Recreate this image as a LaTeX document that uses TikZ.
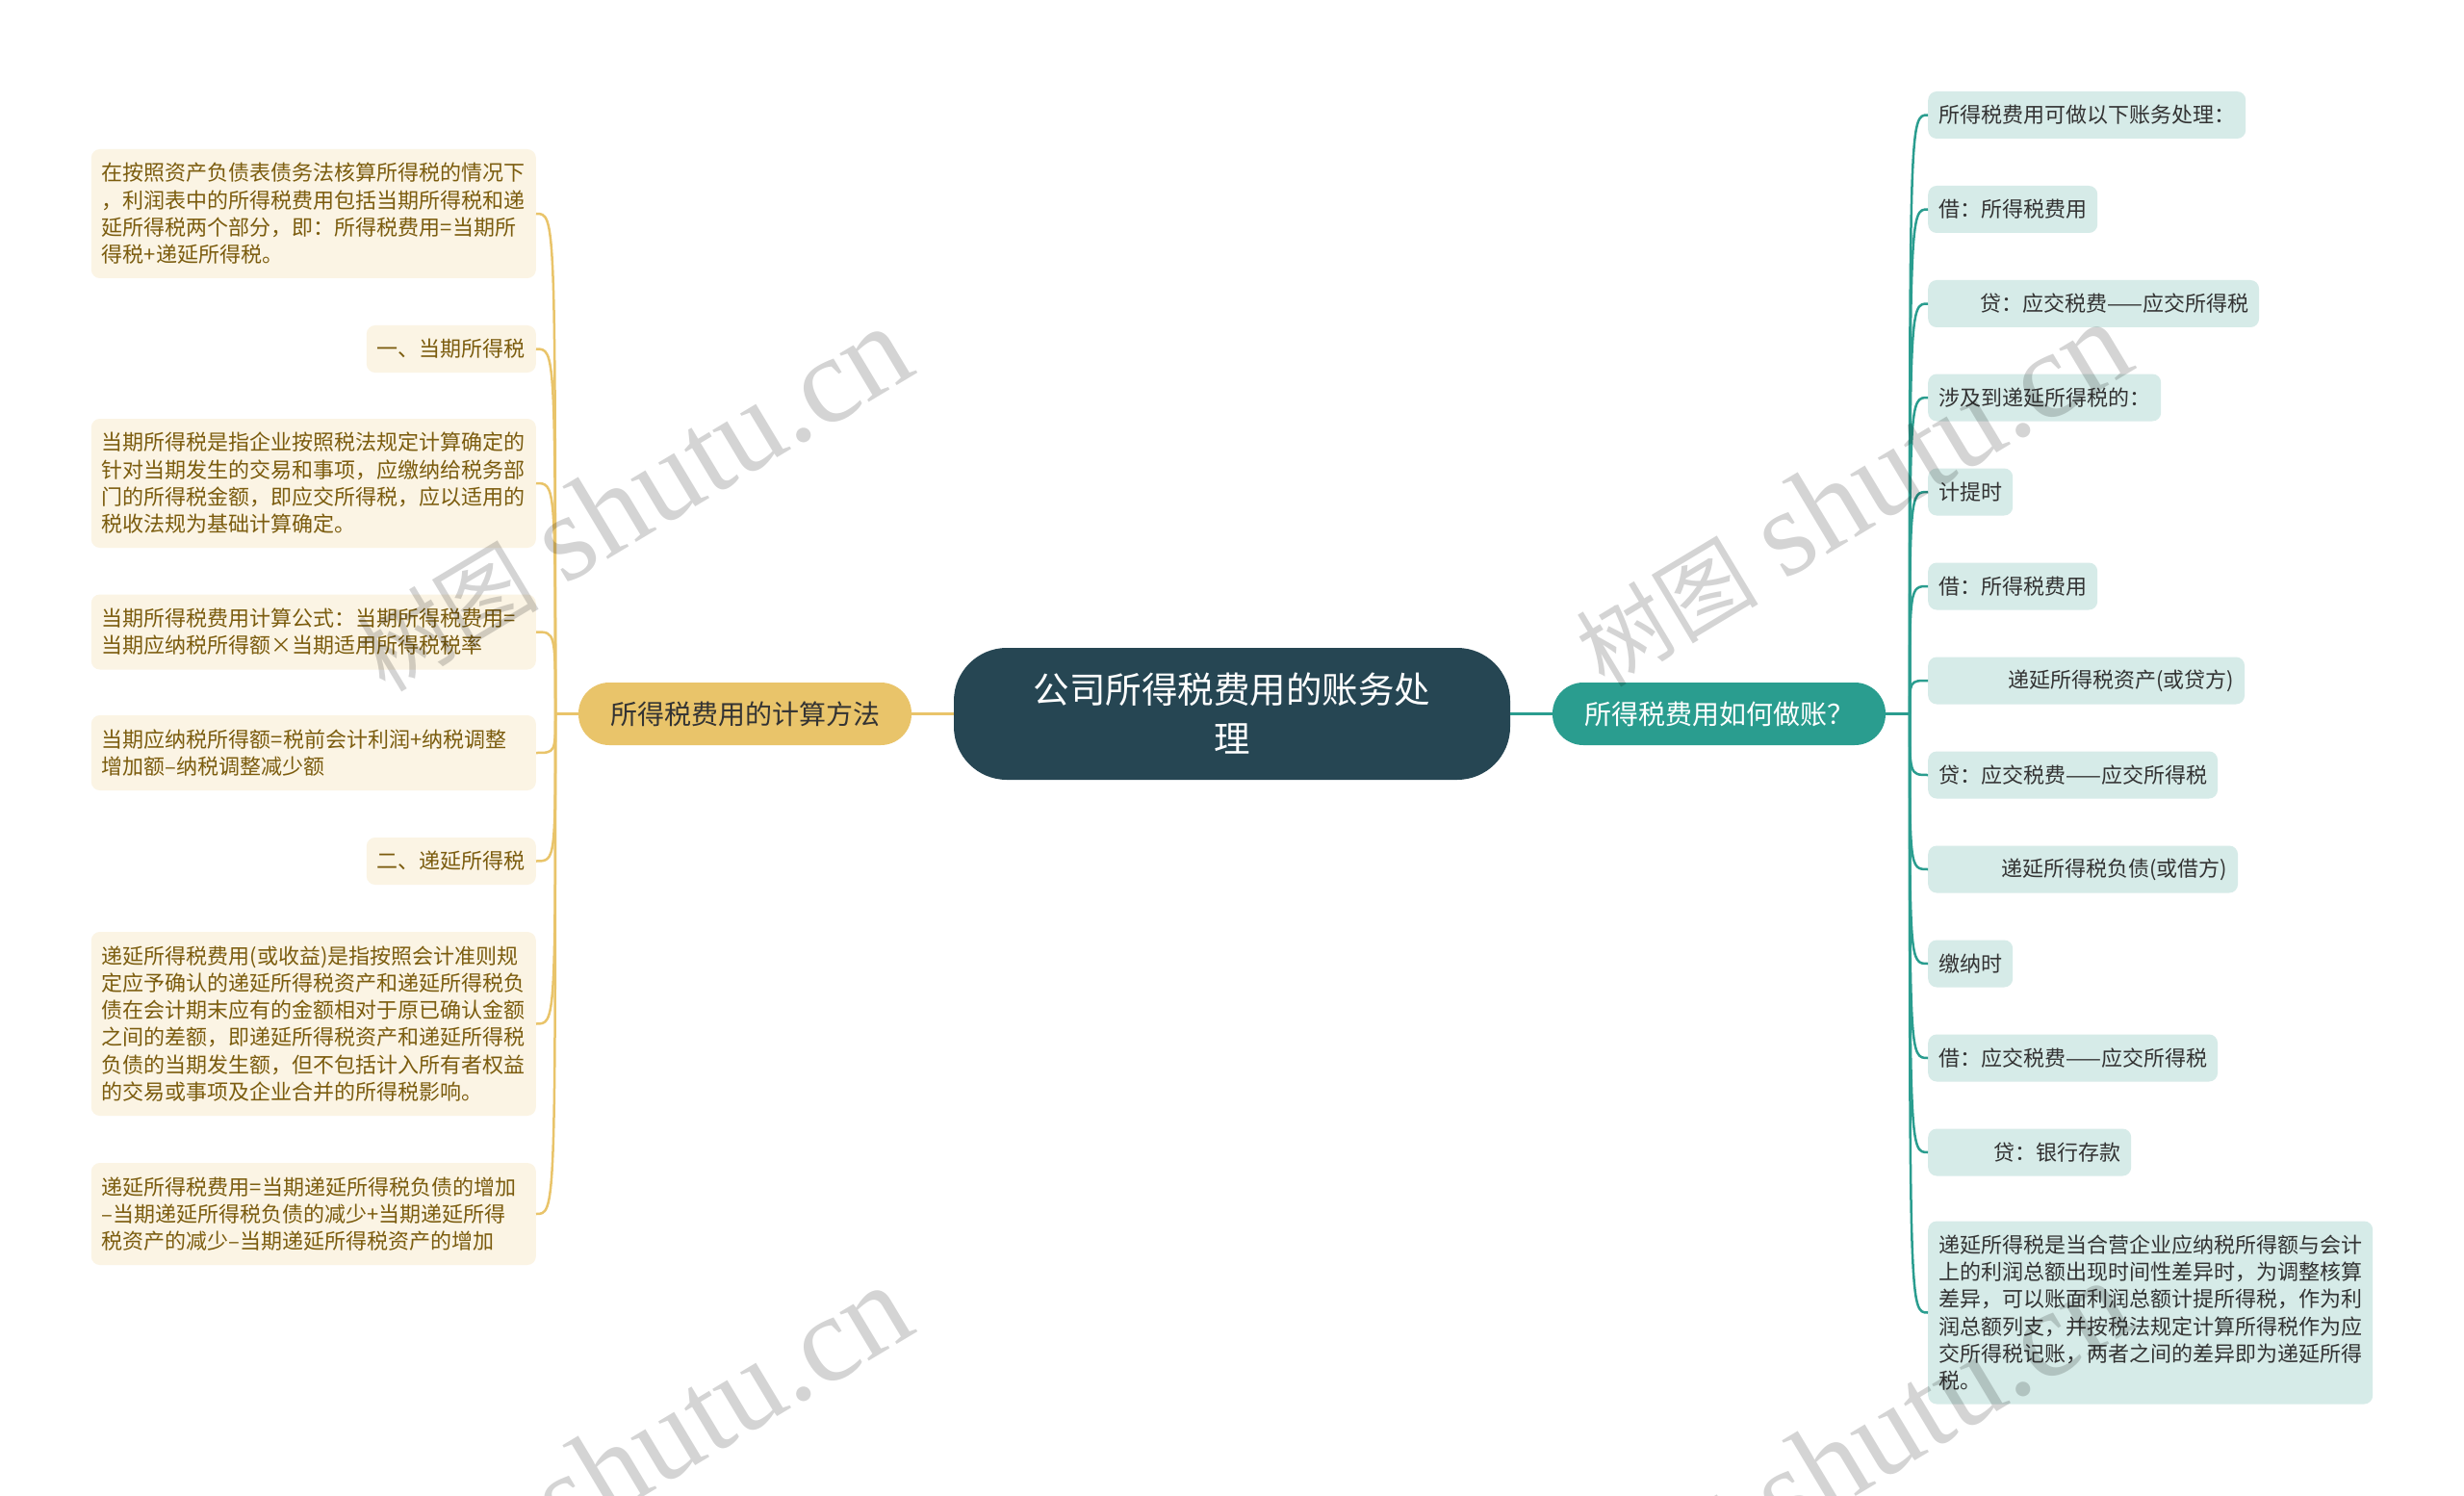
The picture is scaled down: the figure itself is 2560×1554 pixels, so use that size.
\documentclass[tikz,border=0pt]{standalone}
\usepackage{fontspec}
\setmainfont{Noto Sans CJK SC}
\newfontfamily\wmfont{Liberation Serif}
\usepackage{tikz}

\definecolor{rootblue}{HTML}{264653}
\definecolor{goldbr}{HTML}{E9C46A}
\definecolor{tealbr}{HTML}{2A9D8F}
\definecolor{goldleaf}{HTML}{FBF4E4}
\definecolor{goldtext}{HTML}{7B5C0E}
\definecolor{tealleaf}{HTML}{D6EBE8}
\definecolor{leaftext}{HTML}{333333}

\newcommand{\wmtext}{{\fontsize{95}{95}\selectfont 树图}\hspace{28pt}{\wmfont\fontsize{128}{128}\selectfont shutu.cn}}

\begin{document}
\begin{tikzpicture}[x=1pt,y=-1pt,
    rootbox/.style={fill=rootblue,text=white,rounded corners=55pt,
        minimum width=578pt,minimum height=137pt,align=center,
        font=\fontsize{37.5}{51}\selectfont},
    branchbox/.style={rounded corners=32pt,minimum width=346pt,
        minimum height=65pt,inner sep=0pt,font=\fontsize{28}{34}\selectfont},
    calcleaf/.style={fill=goldleaf,text=goldtext,rounded corners=9pt,
        inner xsep=11pt,inner ysep=0pt,align=left,anchor=east,
        font=\fontsize{22}{28.3}\selectfont},
    calcnote/.style={calcleaf,text width=440pt},
    howleaf/.style={fill=tealleaf,text=leaftext,rounded corners=9pt,
        inner xsep=11pt,inner ysep=0pt,minimum height=49pt,align=left,
        anchor=west,font=\fontsize{22}{28.3}\selectfont},
    goldline/.style={goldbr,line width=2.5pt},
    tealline/.style={tealbr,line width=2.5pt},
    wmark/.style={rotate=31,text=black,opacity=.17}]

    \useasboundingbox (0,0) rectangle (2560,1554);
    \clip (0,0) rectangle (2560,1554);
    \fill[white] (0,0) rectangle (2560,1554);

    %root and the two branches:
    \node[rootbox] (root) at (1280,741.5) {公司所得税费用的账务处\\理};
    \node[branchbox,fill=goldbr,text=leaftext] (calc) at (774,741.5) {所得税费用的计算方法};
    \node[branchbox,fill=tealbr,text=white] (howto) at (1786,741.5) {所得税费用如何做账？};

    \coordinate (lbus) at (577,741.5);
    \coordinate (rbus) at (1984,741.5);

    %left leaves:
    \node[calcnote,minimum height=134pt] (l1) at (557,222)
        {在按照资产负债表债务法核算所得税的情况下\\，利润表中的所得税费用包括当期所得税和递\\延所得税两个部分，即：所得税费用=当期所\\得税+递延所得税。};
    \node[calcleaf,minimum height=49pt] (l2) at (557,362.5) {一、当期所得税};
    \node[calcnote,minimum height=134pt] (l3) at (557,502)
        {当期所得税是指企业按照税法规定计算确定的\\针对当期发生的交易和事项，应缴纳给税务部\\门的所得税金额，即应交所得税，应以适用的\\税收法规为基础计算确定。};
    \node[calcnote,minimum height=78pt] (l4) at (557,656.5)
        {当期所得税费用计算公式：当期所得税费用=\\当期应纳税所得额×当期适用所得税税率};
    \node[calcnote,minimum height=78pt] (l5) at (557,782)
        {当期应纳税所得额=税前会计利润+纳税调整\\增加额–纳税调整减少额};
    \node[calcleaf,minimum height=49pt] (l6) at (557,894.5) {二、递延所得税};
    \node[calcnote,minimum height=191pt] (l7) at (557,1063.5)
        {递延所得税费用(或收益)是指按照会计准则规\\定应予确认的递延所得税资产和递延所得税负\\债在会计期末应有的金额相对于原已确认金额\\之间的差额，即递延所得税资产和递延所得税\\负债的当期发生额，但不包括计入所有者权益\\的交易或事项及企业合并的所得税影响。};
    \node[calcnote,minimum height=106pt] (l8) at (557,1261)
        {递延所得税费用=当期递延所得税负债的增加\\–当期递延所得税负债的减少+当期递延所得\\税资产的减少–当期递延所得税资产的增加};

    %right leaves:
    \node[howleaf] (r1) at (2003,119.5) {所得税费用可做以下账务处理：};
    \node[howleaf] (r2) at (2003,217.5) {借：所得税费用};
    \node[howleaf] (r3) at (2003,315.5) {\hspace*{43pt}贷：应交税费——应交所得税};
    \node[howleaf] (r4) at (2003,413) {涉及到递延所得税的：};
    \node[howleaf] (r5) at (2003,511) {计提时};
    \node[howleaf] (r6) at (2003,609) {借：所得税费用};
    \node[howleaf] (r7) at (2003,707) {\hspace*{72pt}递延所得税资产(或贷方)};
    \node[howleaf] (r8) at (2003,805) {贷：应交税费——应交所得税};
    \node[howleaf] (r9) at (2003,903) {\hspace*{65pt}递延所得税负债(或借方)};
    \node[howleaf] (r10) at (2003,1001) {缴纳时};
    \node[howleaf] (r11) at (2003,1099) {借：应交税费——应交所得税};
    \node[howleaf] (r12) at (2003,1197) {\hspace*{57pt}贷：银行存款};
    \node[howleaf,text width=440pt,minimum height=190pt] (r13) at (2003,1363.5)
        {递延所得税是当合营企业应纳税所得额与会计\\上的利润总额出现时间性差异时，为调整核算\\差异，可以账面利润总额计提所得税，作为利\\润总额列支，并按税法规定计算所得税作为应\\交所得税记账，两者之间的差异即为递延所得\\税。};

    %putting connectors:
    \draw[goldline,line width=3pt] (root.west) -- (calc.east);
    \draw[tealline,line width=3pt] (root.east) -- (howto.west);
    \draw[goldline] (calc.west) -- (lbus);
    \draw[tealline] (howto.east) -- (rbus);

    \draw[goldline] (lbus) .. controls (lbus |- l1.east) .. (l1.east);
    \draw[goldline] (lbus) .. controls (lbus |- l2.east) .. (l2.east);
    \draw[goldline] (lbus) .. controls (lbus |- l3.east) .. (l3.east);
    \draw[goldline] (lbus) .. controls (lbus |- l4.east) .. (l4.east);
    \draw[goldline] (lbus) .. controls (lbus |- l5.east) .. (l5.east);
    \draw[goldline] (lbus) .. controls (lbus |- l6.east) .. (l6.east);
    \draw[goldline] (lbus) .. controls (lbus |- l7.east) .. (l7.east);
    \draw[goldline] (lbus) .. controls (lbus |- l8.east) .. (l8.east);

    \draw[tealline] (rbus) .. controls (rbus |- r1.west) .. (r1.west);
    \draw[tealline] (rbus) .. controls (rbus |- r2.west) .. (r2.west);
    \draw[tealline] (rbus) .. controls (rbus |- r3.west) .. (r3.west);
    \draw[tealline] (rbus) .. controls (rbus |- r4.west) .. (r4.west);
    \draw[tealline] (rbus) .. controls (rbus |- r5.west) .. (r5.west);
    \draw[tealline] (rbus) .. controls (rbus |- r6.west) .. (r6.west);
    \draw[tealline] (rbus) .. controls (rbus |- r7.west) .. (r7.west);
    \draw[tealline] (rbus) .. controls (rbus |- r8.west) .. (r8.west);
    \draw[tealline] (rbus) .. controls (rbus |- r9.west) .. (r9.west);
    \draw[tealline] (rbus) .. controls (rbus |- r10.west) .. (r10.west);
    \draw[tealline] (rbus) .. controls (rbus |- r11.west) .. (r11.west);
    \draw[tealline] (rbus) .. controls (rbus |- r12.west) .. (r12.west);
    \draw[tealline] (rbus) .. controls (rbus |- r13.west) .. (r13.west);

    %watermarks:
    \node[wmark] (wm1) at (657,519) {\wmtext};
    \node[wmark] (wm2) at (1924,514) {\wmtext};
    \node[wmark] (wm3) at (657,1515) {\wmtext};
    \node[wmark] (wm4) at (1924,1510) {\wmtext};

\end{tikzpicture}
\end{document}
